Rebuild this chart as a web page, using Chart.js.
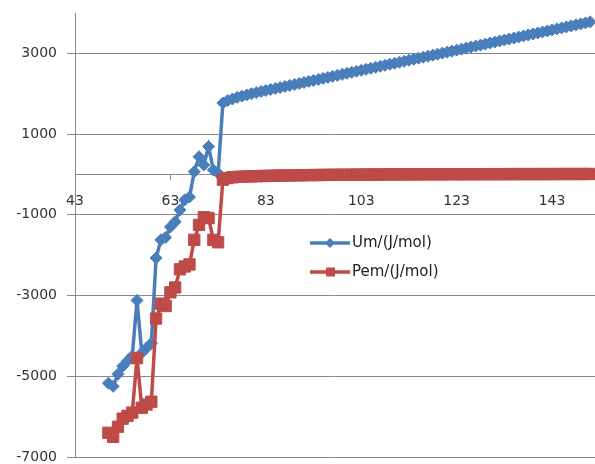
<!DOCTYPE html>
<html>
<head>
<meta charset="utf-8">
<script src="https://cdn.jsdelivr.net/npm/chart.js@4.4.1/dist/chart.umd.min.js"></script>
<style>
  html, body { margin: 0; padding: 0; background: #fff; }
  #wrap { width: 595px; height: 464px; }
</style>
</head>
<body>
<div id="wrap"><canvas id="chartUm" width="595" height="464"></canvas></div>
<script>
// x values (temperature-like axis), shared by both series
const xValues = [
  50, 51, 52, 53, 54, 55, 56, 57, 58, 59,
  60, 61, 62, 63, 64, 65, 66, 67, 68, 69,
  70, 71, 72, 73, 74, 75, 76, 77, 78, 79,
  80, 81, 82, 83, 84, 85, 86, 87, 88, 89,
  90, 91, 92, 93, 94, 95, 96, 97, 98, 99,
  100, 101, 102, 103, 104, 105, 106, 107, 108, 109,
  110, 111, 112, 113, 114, 115, 116, 117, 118, 119,
  120, 121, 122, 123, 124, 125, 126, 127, 128, 129,
  130, 131, 132, 133, 134, 135, 136, 137, 138, 139,
  140, 141, 142, 143, 144, 145, 146, 147, 148, 149,
  150, 151
];

// Um/(J/mol)
const umValues = [
  -5170, -5250, -4950, -4750, -4620, -4500, -3120, -4420, -4300, -4180,
  -2070, -1620, -1560, -1300, -1170, -880, -630, -560, 70, 440,
  235, 690, 110, 30, 1770, 1830, 1870, 1910, 1940, 1970,
  2000, 2030, 2055, 2080, 2105, 2130, 2155, 2180, 2205, 2230,
  2255, 2280, 2305, 2330, 2355, 2380, 2405, 2430, 2455, 2480,
  2505, 2530, 2555, 2580, 2605, 2630, 2655, 2680, 2705, 2730,
  2755, 2780, 2805, 2830, 2855, 2880, 2905, 2930, 2955, 2980,
  3005, 3030, 3055, 3080, 3105, 3130, 3155, 3180, 3205, 3230,
  3255, 3280, 3305, 3330, 3355, 3380, 3405, 3430, 3455, 3480,
  3505, 3530, 3555, 3580, 3605, 3630, 3655, 3680, 3705, 3730,
  3755, 3780
];

// Pem/(J/mol)
const pemValues = [
  -6400, -6500, -6250, -6050, -5980, -5900, -4550, -5780, -5700, -5630,
  -3570, -3200, -3260, -2920, -2800, -2350, -2280, -2230, -1620, -1250,
  -1060, -1080, -1620, -1680, -130, -90, -70, -60, -55, -50,
  -46, -42, -39, -36, -33, -30, -28, -26, -24, -22,
  -20, -18, -17, -15, -14, -12, -11, -10, -9, -8,
  -7, -6, -5, -4, -3, -2, -2, -1, 0, 0,
  1, 1, 2, 2, 3, 3, 4, 4, 4, 5,
  5, 5, 6, 6, 6, 7, 7, 7, 7, 8,
  8, 8, 8, 8, 9, 9, 9, 9, 9, 10,
  10, 10, 10, 10, 10, 11, 11, 11, 11, 11,
  11, 12
];

const xTicks = [43, 63, 83, 103, 123, 143];
const yTicks = [-7000, -5000, -3000, -1000, 1000, 3000];

const gridColor = '#8a8a8a';
const labelFont = { family: 'DejaVu Sans', size: 14 };

function toPoints(values) {
    return xValues.map(function (x, i) { return { x: x, y: values[i] }; });
}

// legend drawn inside the plot, like the Excel original
const insideLegend = {
    id: 'insideLegend',
    afterDatasetsDraw(chart) {
        const ctx = chart.ctx;
        ctx.save();
        ctx.font = '15px "DejaVu Sans"';
        ctx.textBaseline = 'middle';
        chart.data.datasets.forEach(function (ds, i) {
            const y = 243 + i * 29;
            ctx.strokeStyle = ds.borderColor;
            ctx.lineWidth = 3.5;
            ctx.beginPath();
            ctx.moveTo(310, y);
            ctx.lineTo(350, y);
            ctx.stroke();
            ctx.fillStyle = ds.backgroundColor;
            ctx.beginPath();
            if (ds.pointStyle === 'rectRot') {
                ctx.moveTo(330, y - 5);
                ctx.lineTo(335, y);
                ctx.lineTo(330, y + 5);
                ctx.lineTo(325, y);
                ctx.closePath();
            } else {
                ctx.rect(326, y - 4.5, 9, 9);
            }
            ctx.fill();
            ctx.fillStyle = '#222';
            ctx.fillText(ds.label, 352, y);
        });
        ctx.restore();
    }
};

new Chart(document.getElementById('chartUm'), {
    type: 'line',
    data: {
        datasets: [{
            label: 'Um/(J/mol)',
            data: toPoints(umValues),
            borderColor: '#4A7EBB',
            backgroundColor: '#4A7EBB',
            borderWidth: 3.5,
            pointStyle: 'rectRot',
            pointRadius: 6,
            pointBorderWidth: 1,
            order: 2
        }, {
            label: 'Pem/(J/mol)',
            data: toPoints(pemValues),
            borderColor: '#BE4B48',
            backgroundColor: '#BE4B48',
            borderWidth: 3.5,
            pointStyle: 'rect',
            pointRadius: 8,
            pointBorderWidth: 1,
            order: 1
        }]
    },
    options: {
        responsive: false,
        animation: false,
        events: [],
        devicePixelRatio: 1,
        layout: { autoPadding: false, padding: { top: 13, bottom: 7, left: 0, right: 0 } },
        plugins: { legend: { display: false }, tooltip: { enabled: false } },
        scales: {
            x: {
                type: 'linear',
                min: 43,
                max: 152,
                position: { y: 0 },
                afterBuildTicks: function (s) { s.ticks = xTicks.map(function (v) { return { value: v }; }); },
                afterFit: function (s) { s.paddingLeft = 0; s.paddingRight = 0; },
                grid: { display: true, drawOnChartArea: false, drawTicks: true, tickLength: 5, color: gridColor },
                border: { display: true, color: gridColor },
                ticks: {
                    padding: 14, color: '#333', font: labelFont, autoSkip: false, maxRotation: 0,
                    callback: function (v) { return String(v); }
                }
            },
            y: {
                min: -7000,
                max: 4000,
                afterBuildTicks: function (s) { s.ticks = yTicks.map(function (v) { return { value: v }; }); },
                afterFit: function (s) { s.width = 75; s.paddingTop = 0; s.paddingBottom = 0; },
                grid: { color: gridColor, tickLength: 8 },
                border: { color: gridColor },
                ticks: {
                    padding: 10, color: '#333', font: labelFont,
                    callback: function (v) { return String(v); }
                }
            }
        }
    },
    plugins: [insideLegend]
});
</script>
</body>
</html>
